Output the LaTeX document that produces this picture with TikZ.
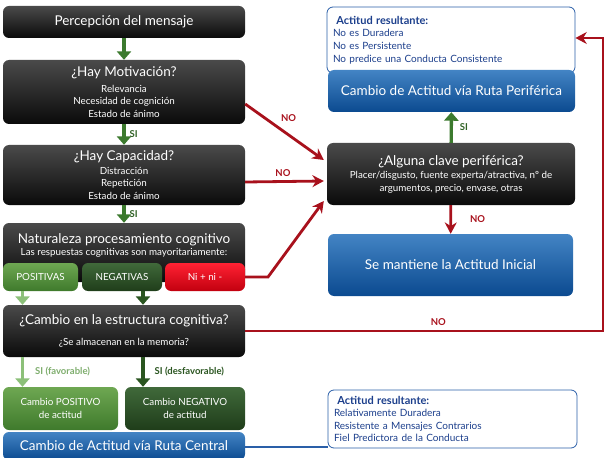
\documentclass[tikz,border=0pt]{standalone}
\usepackage{fontspec}
\setmainfont{Lato}
\usetikzlibrary{arrows.meta}
\definecolor{negrosup}{HTML}{4A4A4A}
\definecolor{negroinf}{HTML}{0A0A0A}
\definecolor{azulsup}{HTML}{4384C4}
\definecolor{azulinf}{HTML}{0B4A90}
\definecolor{azultxt}{HTML}{1C3F8C}
\definecolor{azulbor}{HTML}{2A5FA8}
\definecolor{verdesup}{HTML}{6EA752}
\definecolor{verdeinf}{HTML}{3F7A2C}
\definecolor{oscsup}{HTML}{40693A}
\definecolor{oscinf}{HTML}{1F3D1A}
\definecolor{rojosup}{HTML}{FF2233}
\definecolor{rojoinf}{HTML}{C2000F}
\definecolor{verde}{HTML}{3C7A2E}
\definecolor{verdecl}{HTML}{8CC079}
\definecolor{rojo}{HTML}{A8111C}
\newcommand{\titulo}{\fontsize{13.5}{16}\selectfont}
\tikzset{
  caja/.style={rounded corners=6pt,text=white,align=center,inner sep=2pt,
    font=\fontsize{9.8}{12.5}\selectfont},
  negra/.style={caja,top color=negrosup,bottom color=negroinf},
  azul/.style={caja,top color=azulsup,bottom color=azulinf},
  verdec/.style={caja,top color=verdesup,bottom color=verdeinf},
  oscura/.style={caja,top color=oscsup,bottom color=oscinf},
  rojac/.style={caja,top color=rojosup,bottom color=rojoinf},
  info/.style={rounded corners=6pt,draw=azulbor,line width=0.8pt,fill=white,
    text=azultxt,align=left,inner sep=4pt,font=\fontsize{10}{12.6}\selectfont},
  flv/.style={-{Triangle[length=3mm,width=5mm]},verde,line width=3.4pt},
  flvc/.style={flv,verdecl},
  flr/.style={-{Stealth[length=4mm,width=4.2mm]},rojo,line width=2.8pt},
  lineaazul/.style={azulbor,line width=2.4pt},
  etq/.style={font=\bfseries\fontsize{9.5}{11}\selectfont,inner sep=2pt},
}
\begin{document}
\begin{tikzpicture}[x=1pt,y=-1pt]
  \useasboundingbox (0,0) rectangle (612,457);
  % ===== columna izquierda: ruta central =====
  \node[negra,minimum width=242pt,minimum height=32pt] (percep) at (124,22)
    {\titulo Percepción del mensaje};
  \node[negra,minimum width=242pt,minimum height=64pt] (motiv) at (124,92)
    {{\titulo ¿Hay Motivación?}\\[3pt]Relevancia\\Necesidad de cognición\\Estado de ánimo};
  \node[negra,minimum width=242pt,minimum height=60pt] (capac) at (124,175)
    {{\titulo ¿Hay Capacidad?}\\[1pt]Distracción\\Repetición\\Estado de ánimo};
  \node[negra,minimum width=242pt,minimum height=59pt] (natur) at (124,252.5) {};
  \node[text=white,align=center,font=\fontsize{9.8}{12}\selectfont,below=7pt] (naturtxt) at (natur.north)
    {{\titulo Naturaleza procesamiento cognitivo}\\[0pt]Las respuestas cognitivas son mayoritariamente:};
  \node[verdec,minimum width=75pt,minimum height=28pt] (pos) at (40.5,277) {POSITIVAS};
  \node[oscura,minimum width=80pt,minimum height=28pt] (neg) at (122,277) {NEGATIVAS};
  \node[rojac,minimum width=80pt,minimum height=28pt] (ni) at (205,277) {Ni + ni -};
  \node[negra,minimum width=242pt,minimum height=52pt] (estruct) at (124,331)
    {{\titulo ¿Cambio en la estructura cognitiva?}\\[8pt]¿Se almacenan en la memoria?};
  \node[verdec,minimum width=115pt,minimum height=43pt] (cpos) at (60.5,408.5)
    {Cambio POSITIVO\\de actitud};
  \node[oscura,minimum width=120pt,minimum height=43pt] (cneg) at (185,408.5)
    {Cambio NEGATIVO\\de actitud};
  \node[azul,minimum width=242pt,minimum height=28pt] (central) at (124,446)
    {\titulo Cambio de Actitud vía Ruta Central};
  % ===== columna derecha: ruta periférica =====
  \node[info,minimum width=248pt,minimum height=66pt,text width=236pt] (res1) at (451,40)
    {\textbf{\fontsize{11}{12}\selectfont\ Actitud resultante:}\\No es Duradera\\No es Persistente\\No predice una Conducta Consistente};
  \node[azul,minimum width=247pt,minimum height=42pt] (perif) at (451.5,91)
    {\titulo Cambio de Actitud vía Ruta Periférica};
  \node[negra,minimum width=248pt,minimum height=62pt] (clave) at (451,174)
    {{\titulo ¿Alguna clave periférica?}\\[1pt]Placer/disgusto, fuente experta/atractiva, nº de\\argumentos, precio, envase, otras};
  \node[azul,minimum width=245pt,minimum height=62pt] (mant) at (450.5,265)
    {\titulo Se mantiene la Actitud Inicial};
  \node[info,minimum width=249pt,minimum height=58pt,text width=237pt] (res2) at (452.5,419)
    {\textbf{\fontsize{11}{12}\selectfont\ Actitud resultante:}\\Relativamente Duradera\\Resistente a Mensajes Contrarios\\Fiel Predictora de la Conducta};
  % ===== flechas verdes =====
  \draw[flv] (percep) -- (motiv);
  \draw[flv] (motiv) -- node[right=2pt,etq,verde!80!black] {SI} (capac);
  \draw[flv] (capac) -- node[right=2pt,etq,verde!80!black] {SI} (natur);
  \draw[flvc] ([xshift=-18pt]pos.south) -- ([xshift=-18pt]pos.south |- estruct.north);
  \draw[flv,verde!70!black] ([xshift=21pt]neg.south) -- ([xshift=21pt]neg.south |- estruct.north);
  \draw[flvc] ([xshift=-18pt]pos.south |- estruct.south) -- node[right=9pt,etq,verdecl!90!black] {SI (favorable)}
    ([xshift=-18pt]pos.south |- cpos.north);
  \draw[flv,verde!70!black] ([xshift=21pt]neg.south |- estruct.south) -- node[right=8pt,etq,verde!70!black] {SI (desfavorable)}
    ([xshift=21pt]neg.south |- cneg.north);
  \draw[flv] (clave) -- node[right=5pt,etq,verde!80!black] {SI} (perif);
  % ===== flechas rojas hacia la clave periférica =====
  \draw[flr] (clave) -- node[right=16pt,etq,rojo] {NO} (mant);
  \draw[flr] ([yshift=-12pt]motiv.east) -- node[above right=1pt,pos=0.4,etq,rojo] {NO} ([yshift=14pt,xshift=-3pt]clave.west);
  \draw[flr] ([yshift=-7pt]capac.east) -- node[above=2pt,pos=0.48,etq,rojo] {NO} ([yshift=-7pt,xshift=-3pt]clave.west);
  \coordinate (quiebre) at (268,277);
  \draw[flr] (ni.east) -- (quiebre) -- ([yshift=-27pt,xshift=-3pt]clave.west);
  \coordinate (esqinf) at (603,331);
  \coordinate (esqsup) at (603,38);
  \draw[flr] (estruct.east) -- node[above=2pt,pos=0.54,etq,rojo] {NO} (esqinf) -- (esqsup) -- ([yshift=2pt]res1.east);
  % ===== línea azul a la actitud resultante =====
  \draw[lineaazul] (central.east |- 0,447) -- (res2.west |- 0,447);
\end{tikzpicture}
\end{document}
